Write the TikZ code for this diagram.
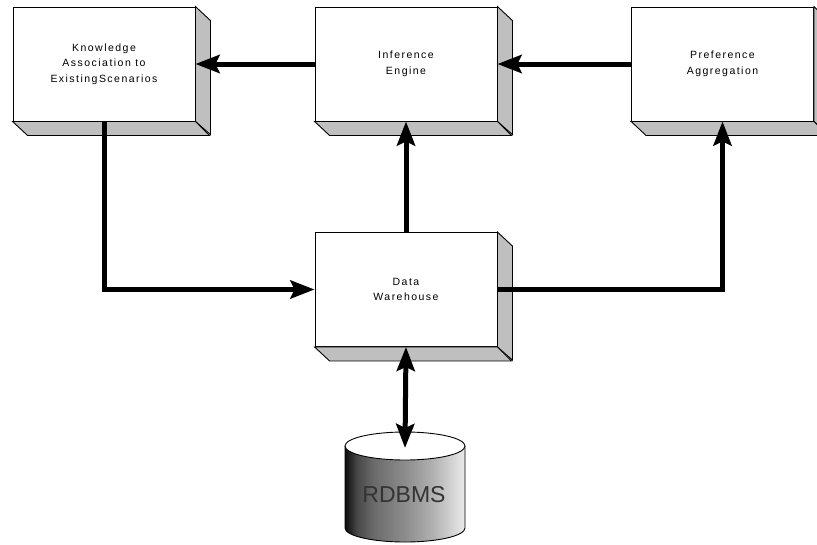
\documentclass[tikz,border=0pt]{standalone}
\usepackage{fontspec}
\setmainfont{Liberation Sans}
\newfontfamily\boxfont[LetterSpace=14]{Liberation Sans}
\usetikzlibrary{arrows.meta}
\pgfdeclarehorizontalshading{dbshade}{100bp}{
  color(0bp)=(black!95); color(25bp)=(black!95); color(30bp)=(black!72);
  color(37bp)=(black!58); color(50bp)=(black!45); color(62bp)=(black!30);
  color(75bp)=(black!8); color(100bp)=(black!8)}
\tikzset{
  frontbox/.style={draw=black, line width=0.9pt, fill=white, minimum width=182pt, minimum height=114pt,
    inner sep=0pt, align=center, font=\boxfont\fontsize{10.5}{15.5}\selectfont},
  sideface/.style={draw=black, line width=0.9pt, fill=black!25},
  tip/.tip={Stealth[length=24pt,width=18pt,inset=4pt]},
  flow/.style={line width=5pt, -tip},
  bothflow/.style={line width=5pt, tip-tip}
}
\begin{document}
\begin{tikzpicture}[x=1pt,y=-1pt]
\useasboundingbox (0,0) rectangle (817,544);
\fill[white] (0,0) rectangle (817,544);
% boxes
\node[frontbox] (ka) at (104,64) {Knowledge\\Association to\\ExistingScenarios};
\node[frontbox] (ie) at (406,64) {Inference\\Engine};
\node[frontbox] (pa) at (722.5,64) {Preference\\Aggregation};
\node[frontbox] (dw) at (406,289.5) {Data\\Warehouse};
\foreach \n in {ka,ie,pa,dw}{
  \draw[sideface] (\n.north east) -- ++(15,14) -- ++(0,114) -- (\n.south east) -- cycle;
  \draw[sideface] (\n.south west) -- ++(15,14) -- ++(182,0) -- (\n.south east) -- cycle;
}
% database cylinder
\shade[shading=dbshade]
  (345,446) -- (345,528) arc[start angle=180, end angle=360, x radius=60pt, y radius=14pt] -- (465,446) -- cycle;
\draw[line width=0.9pt] (345,446) -- (345,528) arc[start angle=180, end angle=360, x radius=60pt, y radius=14pt] -- (465,446);
\draw[line width=0.9pt, fill=white] (405,446) ellipse[x radius=60pt, y radius=14pt];
\coordinate (dbtop) at (405,448);
\node[font=\fontsize{23}{23}\selectfont, text=black!80] (dblabel) at (404,495) {RDBMS};
% connectors
\draw[flow] (ie.west) -- (ka.east);
\draw[flow] (pa.west) -- (ie.east);
\draw[flow] (ka.south) |- (dw.west);
\draw[flow] (dw.north) -- (ie.south);
\draw[flow] (dw.east) -| (pa.south);
\draw[bothflow] (dw.south) -- (dbtop);
\end{tikzpicture}
\end{document}
